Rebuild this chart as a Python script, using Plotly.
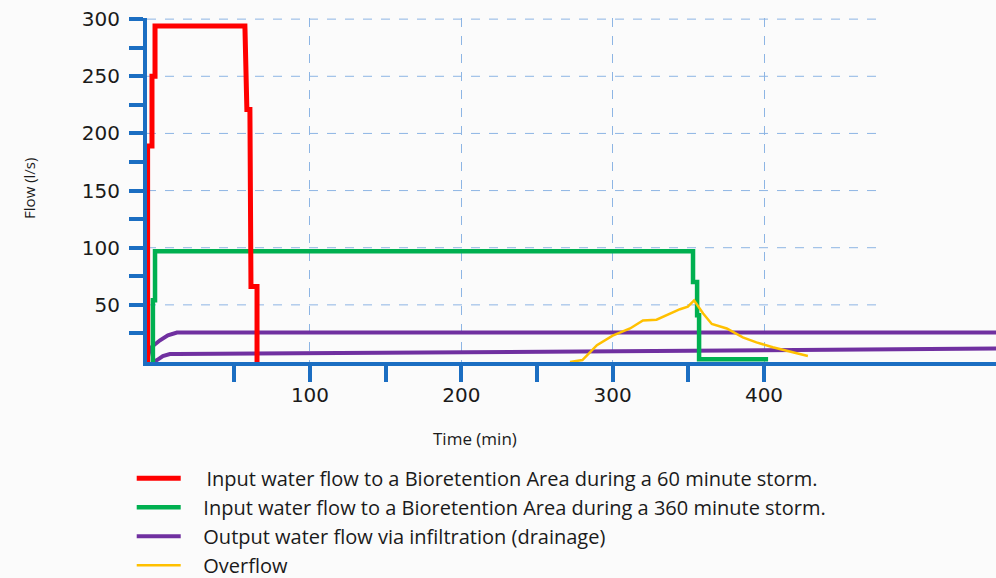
import plotly.graph_objects as go

# ---------------- data (time in min, flow in l/s) ----------------
red_t = [-7.3, -7.3, -4.4, -4.4, -2.4, -2.4, 57.0, 58.3, 60.3, 60.3, 61.0, 61.0, 65.0, 65.0]
red_q = [0, 189, 189, 250, 250, 294, 294, 221, 221, 145, 145, 66, 66, 0]

green_t = [-3.8, -3.8, -2.4, -2.4, 353.1, 353.1, 355.8, 355.8, 357.1, 357.1, 402.7]
green_q = [0, 54, 54, 97, 97, 70, 70, 41, 41, 2.5, 2.5]

purple_up_t = [-7.5, -5.7, 0.9, 6.1, 12.1, 553.3]
purple_up_q = [2, 12, 19, 23.3, 25.8, 25.8]

purple_lo_t = [-3.8, -1.1, 2.8, 7.4, 12.1, 100, 200, 300, 400, 553.3]
purple_lo_q = [0, 1.7, 5.2, 6.9, 6.9, 7.5, 8.4, 9.3, 10.3, 11.8]

overflow_t = [271.8, 280, 289.6, 300, 311.5, 320, 329, 338, 344.5, 349.7, 353.8,
              359.8, 365.5, 375.4, 386, 395, 405.8, 419, 429]
overflow_q = [0, 1.7, 14.7, 23, 29.3, 36.4, 37, 42.4, 46.2, 48.5, 53.9,
              42.4, 33.3, 29.3, 21.6, 17.2, 12.9, 8.6, 5.2]

names = [
    "Input water flow to a Bioretention Area during a 60 minute storm.",
    "Input water flow to a Bioretention Area during a 360 minute storm.",
    "Output water flow via infiltration (drainage)",
    "Overflow",
]

x_ticks = [100, 200, 300, 400]
x_minor = [50, 150, 250, 350]
y_ticks = [50, 100, 150, 200, 250, 300]
y_minor = [25, 75, 125, 175, 225, 275]

# ---------------- style ----------------
AX = "#1b6ec2"
GRID = "#8db5e4"
FONT = "Open Sans"
TICKFONT = "DejaVu Sans"
X_RANGE = [-7.7, 553.3]
Y_RANGE = [0, 301]
GRID_END = 476.6
PAD = "\u00a0" * 3 + "\u200a"   # gap between legend line and its text
PAD1 = "\u00a0" * 4

fig = go.Figure()
fig.add_trace(go.Scatter(x=purple_lo_t, y=purple_lo_q, mode="lines", showlegend=False,
                         line=dict(color="#7030a0", width=4), hoverinfo="skip"))
fig.add_trace(go.Scatter(x=purple_up_t, y=purple_up_q, mode="lines", name=PAD + names[2], legendrank=3,
                         line=dict(color="#7030a0", width=4)))
fig.add_trace(go.Scatter(x=green_t, y=green_q, mode="lines", name=PAD + names[1], legendrank=2,
                         line=dict(color="#00b050", width=4.5)))
fig.add_trace(go.Scatter(x=red_t, y=red_q, mode="lines", name=PAD1 + names[0], legendrank=1,
                         line=dict(color="#ff0000", width=5)))
fig.add_trace(go.Scatter(x=overflow_t, y=overflow_q, mode="lines", name=PAD + names[3], legendrank=4,
                         line=dict(color="#ffc000", width=2.5)))

for v in y_ticks:
    fig.add_shape(type="line", xref="x", yref="y", x0=X_RANGE[0], x1=GRID_END, y0=v, y1=v,
                  line=dict(color=GRID, width=1, dash="dash"), layer="below")

fig.update_xaxes(range=X_RANGE, tickmode="array", tickvals=x_ticks, ticks="outside",
                 ticklen=16, tickwidth=4, tickcolor=AX, showline=True, linecolor=AX, linewidth=4,
                 showgrid=True, gridcolor=GRID, griddash="dash", gridwidth=1, zeroline=False,
                 ticklabelstandoff=-4,
                 minor=dict(tickvals=x_minor, ticks="outside", ticklen=16, tickwidth=4,
                            tickcolor=AX, showgrid=False),
                 tickfont=dict(family=TICKFONT, size=20, color="#1a1a1a"), layer="below traces")
fig.update_yaxes(range=Y_RANGE, tickmode="array", tickvals=y_ticks, ticks="outside",
                 ticklen=14, tickwidth=4, tickcolor=AX, showline=True, linecolor=AX, linewidth=4,
                 showgrid=False, zeroline=False, ticklabelstandoff=5,
                 minor=dict(tickvals=y_minor, ticks="outside", ticklen=14, tickwidth=4,
                            tickcolor=AX, showgrid=False),
                 tickfont=dict(family=TICKFONT, size=20, color="#1a1a1a"), layer="below traces")

fig.add_annotation(text="Time (min)", xref="paper", yref="paper", x=0.386, y=-0.221,
                   xanchor="center", yanchor="middle",
                   showarrow=False, font=dict(family=FONT, size=17, color="#1a1a1a"))
fig.add_annotation(text="Flow (l/s)", xref="paper", yref="paper", x=-0.139, y=0.506,
                   xanchor="center", yanchor="middle",
                   textangle=-90, showarrow=False, font=dict(family=FONT, size=15, color="#1a1a1a"))

fig.update_layout(
    width=996, height=578,
    margin=dict(l=147, r=0, t=18, b=216, autoexpand=False),
    paper_bgcolor="#fbfbfb", plot_bgcolor="#fbfbfb",
    legend=dict(orientation="v", x=-0.018, y=-0.2814, xanchor="left", yanchor="top",
                font=dict(family=FONT, size=20, color="#1a1a1a"), itemwidth=44,
                bgcolor="rgba(0,0,0,0)"),
    showlegend=True,
)

fig.write_html("out.html", config={"displayModeBar": False},
               post_script="document.body.style.margin='0';")
